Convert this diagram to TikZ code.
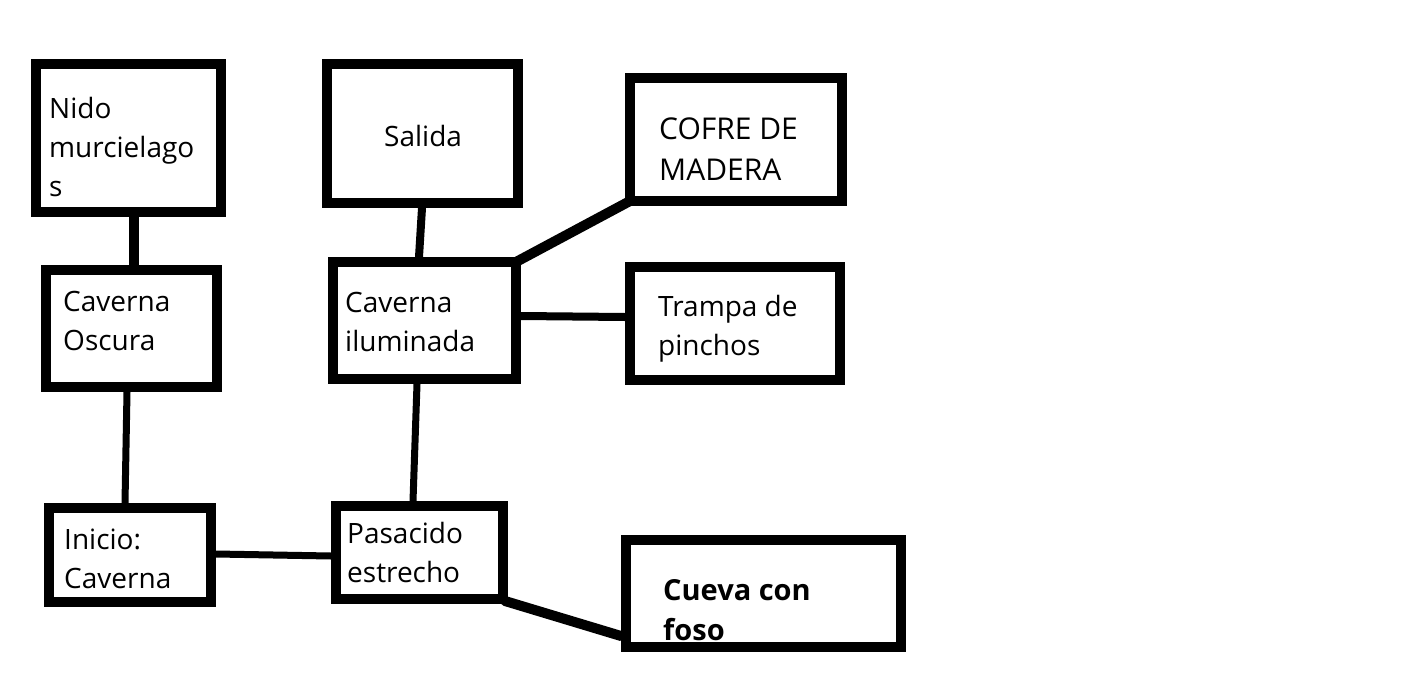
\documentclass[tikz,border=0pt]{standalone}
\usepackage{fontspec}
\setmainfont{Open Sans}
\begin{document}
\begin{tikzpicture}[x=1pt,y=-1pt,
  box/.style={draw=black,line width=10pt,rectangle,inner sep=0pt,fill=none},
  txt/.style={anchor=base west,inner sep=0pt,font=\fontsize{28}{39}\selectfont},
  captxt/.style={anchor=base west,inner sep=0pt,font=\fontsize{30}{39}\selectfont},
  btxt/.style={anchor=base west,inner sep=0pt,font=\fontsize{29}{39}\selectfont\bfseries},
  link/.style={draw=black,line width=#1},
  link/.default=8pt]
\useasboundingbox[fill=white] (0,0) rectangle (1416,672);
% boxes
\node[box,minimum width=185pt,minimum height=148pt] (nido) at (128.5,138) {};
\node[box,minimum width=191pt,minimum height=139pt] (salida) at (422.5,133.5) {};
\node[box,minimum width=212pt,minimum height=123pt] (cofre) at (736,139.5) {};
\node[box,minimum width=171pt,minimum height=117pt] (oscura) at (131.5,328.5) {};
\node[box,minimum width=183pt,minimum height=117pt] (ilum) at (424.5,320.5) {};
\node[box,minimum width=210pt,minimum height=113pt] (trampa) at (735,323.5) {};
\node[box,minimum width=162pt,minimum height=94pt] (inicio) at (130,555) {};
\node[box,minimum width=167pt,minimum height=93pt] (pasa) at (419.5,552.5) {};
\node[box,minimum width=275pt,minimum height=107pt] (cueva) at (763.5,593.5) {};
% texts
\node[txt] (t1a) at (49,118) {Nido};
\node[txt] (t1b) at (49,157) {murcielago};
\node[txt] (t1c) at (49,196) {s};
\node[txt] (t2) at (384,146) {Salida};
\node[captxt] (t3a) at (659,139) {COFRE DE};
\node[captxt] (t3b) at (659,180) {MADERA};
\node[txt] (t4a) at (63,311) {Caverna};
\node[txt] (t4b) at (63,350) {Oscura};
\node[txt] (t5a) at (345,312) {Caverna};
\node[txt] (t5b) at (345,351) {iluminada};
\node[txt] (t6a) at (658,316) {Trampa de};
\node[txt] (t6b) at (658,355) {pinchos};
\node[txt] (t7a) at (64,549) {Inicio:};
\node[txt] (t7b) at (64,588) {Caverna};
\node[txt] (t8a) at (347,543) {Pasacido};
\node[txt] (t8b) at (347,582) {estrecho};
\node[btxt] (t9a) at (663,600) {Cueva con};
\node[btxt] (t9b) at (663,640) {foso};
% connectors
\draw[link=10pt] (nido.south -| 134,0) -- (oscura.north -| 134,0);
\draw[link=8pt] (salida.south -| 422,0) -- (ilum.north -| 419,0);
\draw[link=10pt] ([shift={(-5,5)}]ilum.north east) -- ([shift={(5,-5)}]cofre.south west);
\draw[link=8pt] (ilum.east |- 0,316) -- (trampa.west |- 0,317);
\draw[link=7pt] (oscura.south -| 127,0) -- (inicio.north -| 125,0);
\draw[link=7pt] (ilum.south -| 417,0) -- (pasa.north -| 413,0);
\draw[link=7pt] (inicio.east |- 0,554) -- (pasa.west |- 0,556);
\draw[link=10pt,line cap=round] ([shift={(-3,-3)}]pasa.south east) -- (cueva.west |- 0,636);
\end{tikzpicture}
\end{document}
